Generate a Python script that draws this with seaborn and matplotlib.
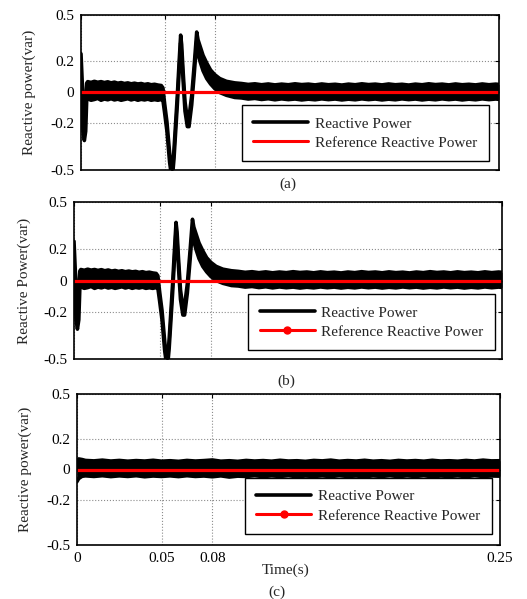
import matplotlib
matplotlib.use("Agg")
import matplotlib.pyplot as plt
from matplotlib.lines import Line2D
import seaborn as sns

# ---------------- data ----------------
# panels (a) and (b): envelope of the measured reactive power
t_ab = [0.0000, 0.0006, 0.0012, 0.0020, 0.0028, 0.0034,
        0.0040, 0.0060, 0.0080, 0.0100, 0.0120, 0.0140, 0.0160, 0.0180,
        0.0200, 0.0220, 0.0240, 0.0260, 0.0280, 0.0300, 0.0320, 0.0340,
        0.0360, 0.0380, 0.0400, 0.0420, 0.0440, 0.0460, 0.0480, 0.0490,
        0.0500, 0.0514, 0.0530, 0.0540, 0.0548, 0.0556, 0.0576, 0.0586,
        0.0596, 0.0602, 0.0610, 0.0622, 0.0636, 0.0646, 0.0662, 0.0678,
        0.0692, 0.0700, 0.0712, 0.0730, 0.0752, 0.0775, 0.0800, 0.0830,
        0.0870, 0.0920,
        0.096, 0.100, 0.104, 0.108, 0.112, 0.116, 0.120, 0.124, 0.128,
        0.132, 0.136, 0.140, 0.144, 0.148, 0.152, 0.156, 0.160, 0.164,
        0.168, 0.172, 0.176, 0.180, 0.184, 0.188, 0.192, 0.196, 0.200,
        0.204, 0.208, 0.212, 0.216, 0.220, 0.224, 0.228, 0.232, 0.236,
        0.240, 0.244, 0.248, 0.250]
q_ab_upper = [0.25, 0.10, -0.05, -0.15, -0.05, 0.06,
              0.070, 0.065, 0.072, 0.066, 0.070, 0.064, 0.069, 0.062,
              0.067, 0.060, 0.064, 0.058, 0.062, 0.056, 0.060, 0.055,
              0.058, 0.052, 0.056, 0.050, 0.053, 0.048, 0.045, 0.030,
              -0.07, -0.19, -0.39, -0.49, -0.49, -0.37, -0.02, 0.18,
              0.37, 0.31, 0.15, -0.06, -0.17, -0.16, -0.02, 0.19,
              0.39, 0.34, 0.30, 0.24, 0.19, 0.145, 0.115, 0.09,
              0.072, 0.062,
              0.058, 0.052, 0.056, 0.050, 0.055, 0.049, 0.054, 0.050, 0.056,
              0.051, 0.054, 0.049, 0.055, 0.050, 0.053, 0.048, 0.054, 0.050,
              0.056, 0.051, 0.054, 0.049, 0.055, 0.050, 0.053, 0.048, 0.054,
              0.050, 0.056, 0.051, 0.054, 0.049, 0.055, 0.050, 0.053, 0.049,
              0.055, 0.050, 0.054, 0.052]
q_ab_lower = [-0.02, -0.10, -0.25, -0.31, -0.25, -0.05,
              -0.040, -0.050, -0.045, -0.038, -0.050, -0.042, -0.047, -0.040,
              -0.048, -0.043, -0.050, -0.045, -0.040, -0.048, -0.042, -0.050,
              -0.044, -0.048, -0.043, -0.050, -0.046, -0.050, -0.045, -0.050,
              -0.13, -0.25, -0.45, -0.53, -0.53, -0.43, -0.08, 0.12,
              0.32, 0.25, 0.09, -0.12, -0.22, -0.22, -0.08, 0.13,
              0.33, 0.25, 0.20, 0.14, 0.09, 0.055, 0.025, 0.0,
              -0.018, -0.032,
              -0.035, -0.042, -0.038, -0.045, -0.040, -0.047, -0.041, -0.046, -0.042,
              -0.048, -0.043, -0.047, -0.041, -0.046, -0.042, -0.048, -0.043, -0.047,
              -0.041, -0.046, -0.042, -0.048, -0.043, -0.047, -0.041, -0.046, -0.042,
              -0.048, -0.043, -0.047, -0.041, -0.046, -0.042, -0.048, -0.043, -0.047,
              -0.041, -0.046, -0.042, -0.044]

# panel (c): envelope of the measured reactive power
t_c = [0.000, 0.001, 0.003, 0.005, 0.010, 0.015, 0.020, 0.025, 0.030,
       0.035, 0.040, 0.045, 0.050, 0.055, 0.060, 0.065, 0.070, 0.075,
       0.080, 0.085, 0.090, 0.095, 0.100, 0.105, 0.110, 0.115, 0.120,
       0.125, 0.130, 0.135, 0.140, 0.145, 0.150, 0.155, 0.160, 0.165,
       0.170, 0.175, 0.180, 0.185, 0.190, 0.195, 0.200, 0.205, 0.210,
       0.215, 0.220, 0.225, 0.230, 0.235, 0.240, 0.245, 0.250]
q_c_upper = [0.000, 0.070, 0.066, 0.060, 0.057, 0.062, 0.056, 0.060, 0.055,
             0.059, 0.056, 0.061, 0.055, 0.058, 0.054, 0.060, 0.056, 0.059,
             0.063, 0.055, 0.058, 0.054, 0.060, 0.056, 0.059, 0.055, 0.061,
             0.056, 0.058, 0.054, 0.060, 0.057, 0.062, 0.055, 0.059, 0.056,
             0.061, 0.055, 0.058, 0.054, 0.060, 0.056, 0.059, 0.055, 0.061,
             0.056, 0.058, 0.055, 0.060, 0.056, 0.062, 0.057, 0.058]
q_c_lower = [-0.080, -0.060, -0.045, -0.042, -0.046, -0.041, -0.047, -0.042, -0.046,
             -0.041, -0.048, -0.043, -0.046, -0.042, -0.047, -0.041, -0.046, -0.043,
             -0.048, -0.042, -0.050, -0.044, -0.046, -0.041, -0.047, -0.042, -0.046,
             -0.041, -0.048, -0.043, -0.046, -0.042, -0.047, -0.041, -0.046, -0.043,
             -0.048, -0.042, -0.046, -0.041, -0.047, -0.042, -0.046, -0.041, -0.048,
             -0.043, -0.046, -0.042, -0.047, -0.041, -0.046, -0.043, -0.044]

# reference reactive power (zero)
t_ref = [0.0, 0.25]
q_ref = [0.0, 0.0]

y_ticks = [0.5, 0.2, 0.0, -0.2, -0.5]
y_tick_labels = ["0.5", "0.2", "0", "-0.2", "-0.5"]
x_ticks = [0.0, 0.05, 0.08, 0.25]
x_tick_labels = ["0", "0.05", "0.08", "0.25"]

y_labels = ["Reactive power(var)", "Reactive Power(var)", "Reactive power(var)"]
legend_labels = ["Reactive Power", "Reference Reactive Power"]
captions = ["(a)", "(b)", "(c)"]
x_label = "Time(s)"

# ---------------- style ----------------
sns.set_style("white")
plt.rcParams["font.family"] = ["Liberation Serif", "DejaVu Serif"]
plt.rcParams["font.size"] = 11
plt.rcParams["axes.linewidth"] = 1.2
plt.rcParams["axes.edgecolor"] = "black"

fig = plt.figure(figsize=(5.27, 5.99), dpi=100)

W, H = 527.0, 599.0
# axes rectangles in pixels: left, right, top, bottom
rects = [(81, 499, 15, 170), (74, 502, 202, 359), (77, 500, 394, 545)]
leg_anchor = [(0.976, 0.058), (0.984, 0.057), (0.981, 0.073)]
ylabel_x = [-0.108, -0.100, -0.106]
cap_pos = [(288, 184), (286, 381), (277, 592)]

panels = [(t_ab, q_ab_upper, q_ab_lower), (t_ab, q_ab_upper, q_ab_lower),
          (t_c, q_c_upper, q_c_lower)]

for i, (l, r, t, b) in enumerate(rects):
    ax = fig.add_axes([l / W, 1 - b / H, (r - l) / W, (b - t) / H])
    tt, up, lo = panels[i]
    ax.fill_between(tt, lo, up, color="black", linewidth=0, zorder=2)
    sns.lineplot(x=tt, y=up, ax=ax, color="black", lw=2.6, zorder=3)
    sns.lineplot(x=tt, y=lo, ax=ax, color="black", lw=2.6, zorder=3)
    sns.lineplot(x=t_ref, y=q_ref, ax=ax, color="#ff0000", lw=2.3, zorder=4)

    ax.set_xlim(0, 0.25)
    ax.set_ylim(-0.5, 0.5)
    ax.set_yticks(y_ticks)
    ax.set_yticklabels(y_tick_labels)
    ax.set_xticks(x_ticks)
    if i == 2:
        ax.set_xticklabels(x_tick_labels)
        ax.set_xlabel(x_label)
        ax.xaxis.set_label_coords(0.494, -0.125)
    else:
        ax.set_xticklabels([])
    ax.tick_params(direction="in", length=3, width=0.8, top=True, right=True,
                   labelsize=11, pad=5, colors="black")
    ax.grid(True, linestyle=":", color="#8c8c8c", linewidth=0.8)
    ax.set_axisbelow(True)
    for s in ax.spines.values():
        s.set_visible(True)
        s.set_color("black")
        s.set_zorder(5)
    ax.set_ylabel(y_labels[i])
    ax.yaxis.set_label_coords(ylabel_x[i], 0.5)

    marker = None if i == 0 else "o"
    handles = [Line2D([], [], color="black", lw=2.6),
               Line2D([], [], color="#ff0000", lw=2.2, marker=marker, markersize=5)]
    leg = ax.legend(handles, legend_labels, loc="lower right",
                    bbox_to_anchor=leg_anchor[i], borderaxespad=0,
                    fontsize=11, frameon=True, fancybox=False, framealpha=1,
                    edgecolor="black", handlelength=3.6, handletextpad=0.45,
                    labelspacing=0.35, borderpad=0.75)
    leg.get_frame().set_linewidth(1.0)
    leg.set_zorder(6)

    cx, cy = cap_pos[i]
    fig.text(cx / W, 1 - cy / H, captions[i], ha="center", va="center", fontsize=11)

fig.savefig("out.png", dpi=100)
